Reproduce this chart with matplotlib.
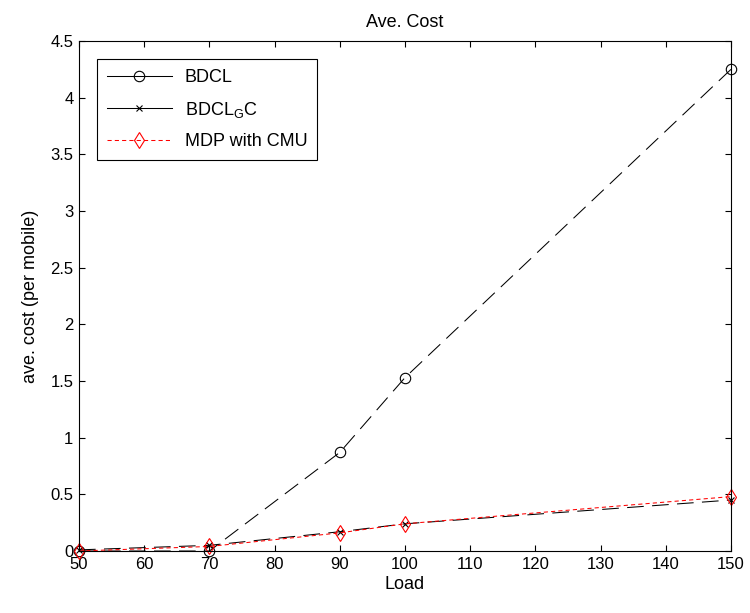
import matplotlib
matplotlib.use("Agg")
import matplotlib.pyplot as plt
from matplotlib.lines import Line2D
from matplotlib.ticker import FormatStrFormatter, MultipleLocator

plt.rcParams['font.family'] = ['Liberation Sans', 'DejaVu Sans']
plt.rcParams['mathtext.fontset'] = 'custom'
plt.rcParams['mathtext.rm'] = 'Liberation Sans'
plt.rcParams['mathtext.it'] = 'Liberation Sans'

# данные
load = [50, 70, 90, 100, 150]
bdcl = [0.0, 0.0, 0.87, 1.53, 4.25]
bdcl_gc = [0.01, 0.05, 0.17, 0.24, 0.45]
mdp_cmu = [0.0, 0.04, 0.16, 0.24, 0.48]
labels = ["BDCL", r"BDCL$_{\mathrm{G}}$C", "MDP with CMU"]

fig = plt.figure(figsize=(7.5, 6.13), dpi=100)
ax = fig.add_axes([79/750, 1-551/613, (731-79)/750, (551-41)/613])

long_dash = (0, (16, 8))
ax.plot(load, bdcl, color='black', lw=0.75, linestyle=long_dash, clip_on=False,
        marker='o', ms=7.5, mfc='none', mec='black', mew=0.8)
ax.plot(load, bdcl_gc, color='black', lw=0.75, linestyle=long_dash, clip_on=False,
        marker='x', ms=4.5, mec='black', mew=0.8)
ax.plot(load, mdp_cmu, color='red', lw=0.75, linestyle=(0, (4, 3)), clip_on=False,
        marker='d', ms=8.5, mfc='none', mec='red', mew=0.8)

ax.set_xlim(50, 150)
ax.set_ylim(0, 4.5)
ax.xaxis.set_major_locator(MultipleLocator(10))
ax.yaxis.set_major_locator(MultipleLocator(0.5))
ax.yaxis.set_major_formatter(FormatStrFormatter('%g'))
ax.tick_params(direction='in', top=True, right=True, length=4, width=0.8,
               labelsize=12, pad=4)
for s in ax.spines.values():
    s.set_linewidth(0.8)

ax.set_title("Ave. Cost", fontsize=13, pad=10)
ax.set_xlabel("Load", fontsize=13, labelpad=3)
ax.set_ylabel("ave. cost (per mobile)", fontsize=13, labelpad=8)

# легенда: чёрные линии сплошные, как в оригинале
handles = [
    Line2D([], [], color='black', lw=0.75, marker='o', ms=7.5, mfc='none', mew=0.8),
    Line2D([], [], color='black', lw=0.75, marker='x', ms=4.5, mew=0.8),
    Line2D([], [], color='red', lw=0.75, linestyle=(0, (4, 3)), marker='d', ms=8.5,
           mfc='none', mew=0.8),
]
leg = ax.legend(handles, labels, loc='upper left', fontsize=13, fancybox=False,
                edgecolor='black', framealpha=1, handlelength=3.6,
                borderaxespad=1.0, labelspacing=0.75, handletextpad=0.7,
                borderpad=0.55)
leg.get_frame().set_linewidth(0.8)

fig.savefig("out.png", dpi=100)
